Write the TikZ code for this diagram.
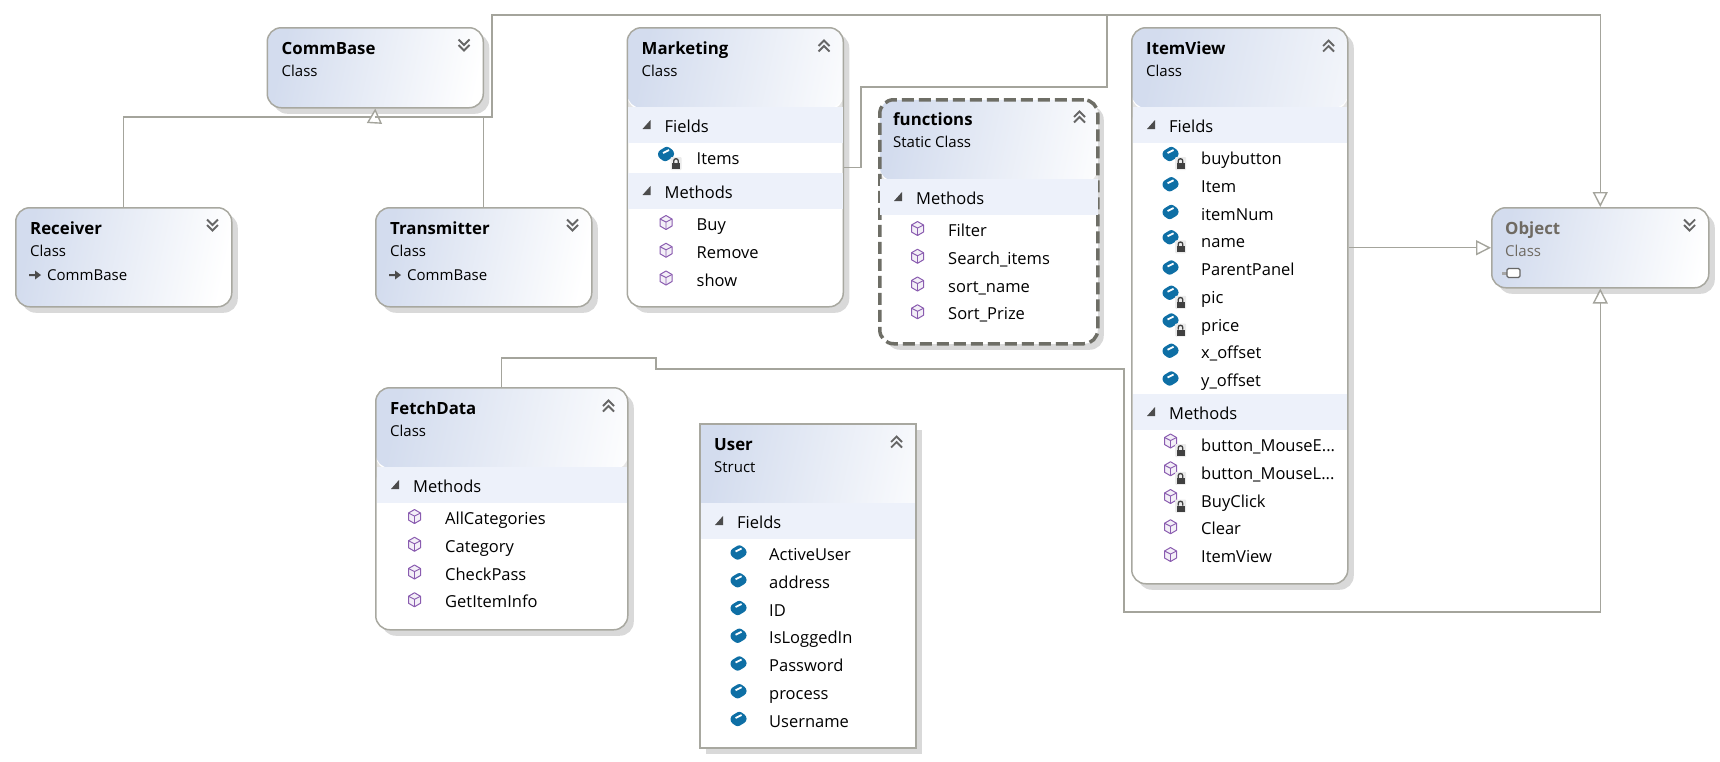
\documentclass[tikz,border=0pt]{standalone}
\usepackage{fontspec}
\setmainfont{Open Sans}
\usepackage{tikz}
\usetikzlibrary{arrows.meta, shadows}
\definecolor{boxline}{HTML}{A8A8A0}
\definecolor{linegray}{HTML}{A4A49C}
\definecolor{headblue}{HTML}{D3DCEE}
\definecolor{bandblue}{HTML}{EDF1FA}
\definecolor{shadowgray}{HTML}{D9D9D9}
\definecolor{fieldblue}{HTML}{0E6FA5}
\definecolor{methodpurple}{HTML}{8A5CB0}
\definecolor{dashgray}{HTML}{6E6E66}
\definecolor{fadedtext}{HTML}{6F6A62}
\newcommand{\rowdots}{...}
\newcommand{\classtitle}[4]{%
  \node[titletext] (#1-title) at ([shift={(15,27.5)}]#1.north west) {#2};
  \node[subtext] (#1-kind) at ([shift={(15,49.5)}]#1.north west) {#3};
  \pic at ([shift={(-20,18.5)}]#1.north east) {#4};
}
\newcommand{\memberband}[3]{%
  \fill[bandblue] ([shift={(1.5,#2)}]#1.north west) rectangle ([shift={(-1.5,#2+36)}]#1.north east);
  \fill[black!70] ([shift={(24,#2+13)}]#1.north west) -- ++(0,9) -- ++(-8,0) -- cycle;
  \node[rowtext] (#1-#3) at ([shift={(38,#2+25)}]#1.north west) {#3};
}
\newcommand{\memberrows}[4]{%
  \foreach \rowname/\rowlock [count=\i] in {#4} {
    \node[rowtext] (#1-row\i) at ([shift={(70,#3+6.5+27.75*\i-27.75)}]#1.north west) {\rowname};
    \pic at ([shift={(39.5,#3-1.5-2.5*\rowlock+27.75*\i-27.75)}]#1.north west) {#2};
    \ifnum\rowlock=1
      \pic at ([shift={(49.5,#3+5.5+27.75*\i-27.75)}]#1.north west) {lockicon};
    \fi
  }
}
\tikzset{
  pics/chevronup/.style={code={
    \draw[black!60, line width=1.8pt] (-5.5,0.5) -- (0,-5) -- (5.5,0.5);
    \draw[black!60, line width=1.8pt] (-5.5,6) -- (0,0.5) -- (5.5,6);
  }},
  pics/chevrondown/.style={code={
    \draw[black!60, line width=1.8pt] (-5.5,-6) -- (0,-0.5) -- (5.5,-6);
    \draw[black!60, line width=1.8pt] (-5.5,-0.5) -- (0,5) -- (5.5,-0.5);
  }},
  pics/fieldicon/.style={code={
    \fill[fieldblue, rounded corners=2.5pt] (-8,-2.5) -- (1,-8) -- (8,-3) -- (8,2.5) -- (-1,8) -- (-8,3) -- cycle;
    \draw[white, line width=1.8pt] (-3,-1) -- (3,-4);
  }},
  pics/methodicon/.style={code={
    \draw[methodpurple, fill=methodpurple!10, line width=1pt, line join=round] (0,-7) -- (6,-3.5) -- (6,3.5) -- (0,7) -- (-6,3.5) -- (-6,-3.5) -- cycle;
    \draw[methodpurple, line width=.9pt] (-6,-3.5) -- (0,-.5) -- (6,-3.5) (0,-.5) -- (0,7);
  }},
  pics/lockicon/.style={code={
    \fill[black!8, rounded corners=1pt] (-5.5,-6.5) rectangle (5.5,6.5);
    \draw[black!75, line width=1.3pt] (-2.3,-.5) -- (-2.3,-2.5) arc[start angle=180, end angle=360, radius=2.3] -- (2.3,-.5);
    \fill[black!75] (-4,-.5) rectangle (4,5.5);
  }},
  pics/baseicon/.style={code={
    \fill[black!70] (0,-1) -- (6,-1) -- (6,-4.5) -- (12,0) -- (6,4.5) -- (6,1) -- (0,1) -- cycle;
  }},
  pics/structicon/.style={code={
    \fill[black!35] (0,-1.5) rectangle (6,1.5);
    \draw[black!60, fill=white, line width=1.2pt, rounded corners=1.5pt] (5,-4.5) rectangle (18,4.5);
  }}
}
\begin{document}
\begin{tikzpicture}[
    x=1pt, y=-1pt,
    classbox/.style={draw=boxline, fill=white, line width=1.5pt, rounded corners=14pt, anchor=north west, inner sep=0pt,
      general shadow={shadow xshift=6pt, shadow yshift=-6pt, fill=shadowgray, draw=none}},
    structbox/.style={classbox, rounded corners=0pt},
    staticbox/.style={classbox, draw=dashgray, line width=3.5pt, dash pattern=on 12pt off 5pt},
    headshade/.style={path picture={
      \shade[left color=headblue, right color=white, shading angle=78] (path picture bounding box.north west) rectangle ([yshift=-#1]path picture bounding box.north east);
      \fill[black!10] ([yshift=-#1]path picture bounding box.north west) rectangle ([yshift=-#1-2pt]path picture bounding box.north east);
    }},
    titletext/.style={anchor=base west, inner sep=0pt, font=\fontsize{16.8}{20}\selectfont\bfseries},
    subtext/.style={anchor=base west, inner sep=0pt, font=\fontsize{15}{18}\selectfont},
    rowtext/.style={anchor=base west, inner sep=0pt, font=\fontsize{16.5}{20}\selectfont},
    inherit/.style={draw=linegray, line width=1.4pt, -{Triangle[open, fill=white, length=15pt, width=15pt]}},
    assoc/.style={draw=linegray, line width=1.4pt}
  ]
    \useasboundingbox (0,0) rectangle (1720,761);

    \node[classbox, headshade=120pt, minimum width=216pt, minimum height=80pt] (CommBase) at (266.5,27) {};
    \node[classbox, headshade=120pt, minimum width=216pt, minimum height=99pt] (Receiver) at (15,207) {};
    \node[classbox, headshade=120pt, minimum width=216pt, minimum height=99pt] (Transmitter) at (375,207) {};
    \node[classbox, headshade=80pt, minimum width=216pt, minimum height=279pt] (Marketing) at (626.5,27) {};
    \node[staticbox, headshade=81pt, minimum width=218pt, minimum height=244pt] (functions) at (878,98) {};
    \node[classbox, headshade=80pt, minimum width=216pt, minimum height=556pt] (ItemView) at (1131,27) {};
    \node[classbox, headshade=120pt, minimum width=217pt, minimum height=80pt] (Object) at (1491,207) {};
    \node[classbox, headshade=80pt, minimum width=252pt, minimum height=242pt] (FetchData) at (375,387) {};
    \node[structbox, headshade=80pt, minimum width=216pt, minimum height=324pt] (User) at (699,423) {};

    \classtitle{CommBase}{CommBase}{Class}{chevrondown}
    \classtitle{Receiver}{Receiver}{Class}{chevrondown}
    \classtitle{Transmitter}{Transmitter}{Class}{chevrondown}
    \classtitle{Marketing}{Marketing}{Class}{chevronup}
    \classtitle{functions}{functions}{Static Class}{chevronup}
    \classtitle{ItemView}{ItemView}{Class}{chevronup}
    \classtitle{FetchData}{FetchData}{Class}{chevronup}
    \classtitle{User}{User}{Struct}{chevronup}

    \node[titletext, text=fadedtext] (Object-title) at ([shift={(14,27.5)}]Object.north west) {Object};
    \node[subtext, text=fadedtext] (Object-kind) at ([shift={(14,49.5)}]Object.north west) {Class};
    \pic at ([shift={(-20,18.5)}]Object.north east) {chevrondown};
    \pic at ([shift={(11,66)}]Object.north west) {structicon};

    \pic at ([shift={(14,68)}]Receiver.north west) {baseicon};
    \node[subtext] (Receiver-base) at ([shift={(32,73.5)}]Receiver.north west) {CommBase};
    \pic at ([shift={(14,68)}]Transmitter.north west) {baseicon};
    \node[subtext] (Transmitter-base) at ([shift={(32,73.5)}]Transmitter.north west) {CommBase};

    \memberband{Marketing}{80}{Fields}
    \memberrows{Marketing}{fieldicon}{131}{Items/1}
    \memberband{Marketing}{146}{Methods}
    \memberrows{Marketing}{methodicon}{197}{Buy/0, Remove/0, show/0}

    \memberband{functions}{81}{Methods}
    \memberrows{functions}{methodicon}{132}{Filter/0, Search\_items/0, sort\_name/0, Sort\_Prize/0}

    \memberband{ItemView}{80}{Fields}
    \memberrows{ItemView}{fieldicon}{131}{buybutton/1, Item/0, itemNum/0, name/1, ParentPanel/0, pic/1, price/1, x\_offset/0, y\_offset/0}
    \memberband{ItemView}{367}{Methods}
    \memberrows{ItemView}{methodicon}{418}{button\_MouseE\rowdots/1, button\_MouseL\rowdots/1, BuyClick/1, Clear/0, ItemView/0}

    \memberband{FetchData}{80}{Methods}
    \memberrows{FetchData}{methodicon}{131}{AllCategories/0, Category/0, CheckPass/0, GetItemInfo/0}

    \memberband{User}{80}{Fields}
    \memberrows{User}{fieldicon}{131}{ActiveUser/0, address/0, ID/0, IsLoggedIn/0, Password/0, process/0, Username/0}

    \coordinate (commbus) at (374.5,117);
    \coordinate (commtail) at (374.5,122);
    \coordinate (topleft) at (492,15);
    \coordinate (marketingbend) at (861,87);
    \coordinate (marketingtop) at (1107,15);
    \coordinate (fetchup) at (656,358);
    \coordinate (fetchdown) at (1124,369);
    \coordinate (fetchlow) at (1124,612);

    \draw[assoc] (Receiver.north) |- (commbus);
    \draw[assoc] (Transmitter.north) |- (commbus);
    \draw[inherit] (commtail) -- (CommBase.south);
    \draw[inherit] (commbus) -| (topleft) -| (Object.north);
    \draw[assoc] (Marketing.east) -| (marketingbend) -| (marketingtop);
    \draw[inherit] (ItemView.east |- Object.west) -- (Object.west);
    \draw[inherit] (FetchData.north) |- (fetchup) |- (fetchdown) -- (fetchlow) -| (Object.south);
  \end{tikzpicture}
\end{document}
